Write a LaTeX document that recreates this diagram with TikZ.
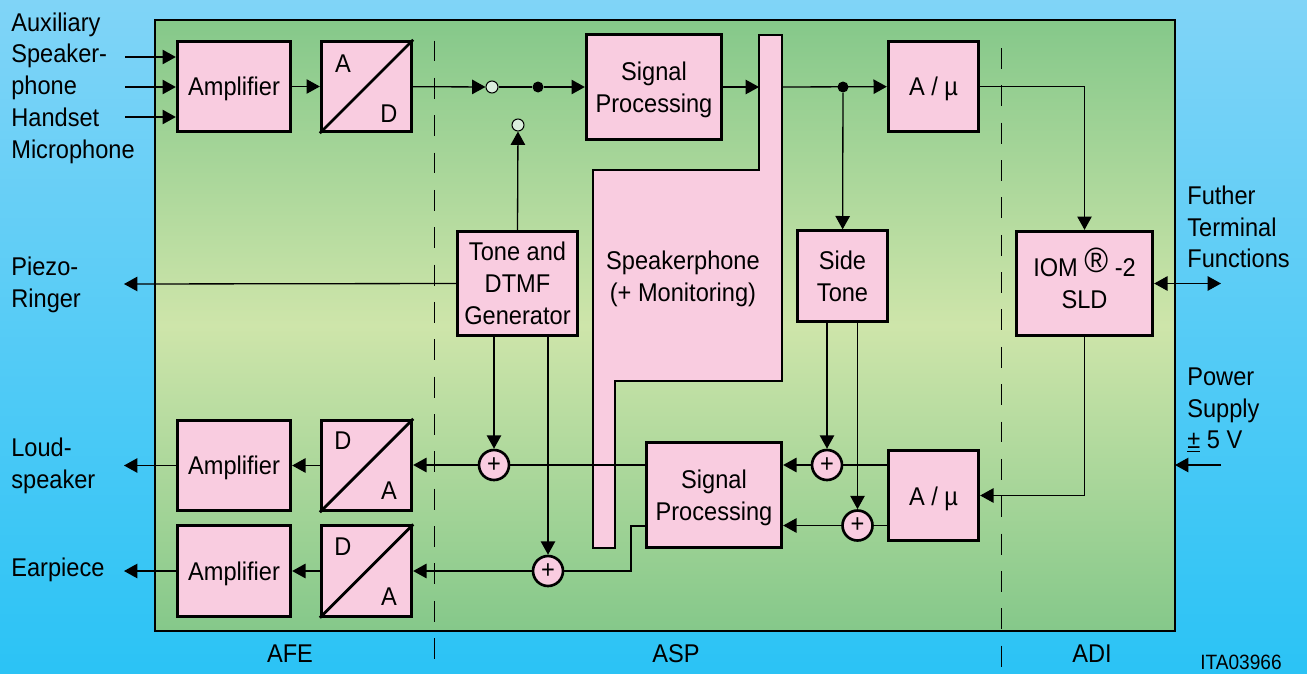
\documentclass[tikz,border=0pt]{standalone}
\usepackage{fontspec}
\setmainfont[FakeStretch=0.92]{Liberation Sans}
\usetikzlibrary{arrows.meta}
\definecolor{skytop}{RGB}{128,212,247}
\definecolor{skylow}{RGB}{43,195,245}
\definecolor{leafrim}{RGB}{133,200,138}
\definecolor{leafmid}{RGB}{206,229,170}
\definecolor{blockpink}{RGB}{249,204,224}
\tikzset{
  wire/.style={line width=0.75pt, black},
  flow/.style={wire, -{Triangle[length=7.6pt, width=8.2pt]}},
  flowboth/.style={wire, {Triangle[length=7.6pt, width=8.2pt]}-{Triangle[length=7.6pt, width=8.2pt]}},
  heavy/.style={line width=1.6pt, black},
  divider/.style={line width=0.5pt, black, dash pattern=on 11.9pt off 9.36pt},
  blockbox/.style={draw=black, line width=1.6pt, fill=blockpink, inner sep=0pt, align=center},
  ampbox/.style={blockbox, minimum width=2.27cm, minimum height=1.81cm},
  convbox/.style={blockbox, minimum width=1.81cm, minimum height=1.81cm},
  sumnode/.style={circle, draw=black, line width=1.5pt, fill=blockpink, inner sep=0pt, minimum size=0.6cm},
  openpin/.style={circle, draw=black, line width=0.6pt, fill=white!70!leafrim, inner sep=0pt, minimum size=0.24cm},
  dotpin/.style={circle, fill=black, inner sep=0pt, minimum size=0.22cm},
  outerlabel/.style={anchor=west, align=left, inner sep=0pt},
  letter/.style={inner sep=0pt},
  dropby/.style={execute at begin node={\rule{0pt}{\dimexpr10.7pt+#1\relax}}}
}
\begin{document}
\begin{tikzpicture}[x=0.02cm, y=-0.02cm, font=\fontsize{14.6}{18.1}\selectfont]
  \useasboundingbox (0,0) rectangle (1307,673);
  \shade[top color=skytop, bottom color=skylow] (0,0) rectangle (1307,673);
  \shade[top color=leafrim, bottom color=leafrim, middle color=leafmid] (155,20) rectangle (1175,631);
  \draw[heavy] (155,20) rectangle (1175,631);

  % section dividers
  \coordinate (afetop) at (434,40.5);
  \coordinate (afelow) at (434,661);
  \coordinate (aditop) at (1001,48);
  \coordinate (adilow) at (1001,668);
  \draw[divider] (afetop) -- (afelow);
  \draw[divider] (aditop) -- (adilow);

  % blocks
  \node[ampbox, dropby=2.6pt] (amptop) at (234,86.5) {Amplifier};
  \node[convbox] (adc) at (366.5,86.5) {};
  \node[blockbox, minimum width=2.71cm, minimum height=2.11cm] (sigtop) at (654,87) {};
  \node[letter, align=center] (sigtoptxt) at (654,89.5) {Signal\\Processing};
  \node[convbox, dropby=2.2pt] (mutop) at (933.5,86.5) {A / µ};
  \node[blockbox, minimum width=2.41cm, minimum height=2.09cm] (tone) at (517.5,283.5) {Tone and\\DTMF\\Generator};
  \node[convbox] (side) at (842.5,276) {Side\\Tone};
  \node[blockbox, minimum width=2.73cm, minimum height=2.09cm] (iom) at (1084.5,283.5) {IOM \smash{\raisebox{2pt}{\fontsize{20}{20}\selectfont ®}} -2\\SLD};
  \node[ampbox, dropby=2.6pt] (ampmid) at (234,465.5) {Amplifier};
  \node[convbox] (dacmid) at (366.5,465.5) {};
  \node[ampbox, dropby=2.6pt] (amplow) at (234,571) {Amplifier};
  \node[convbox] (daclow) at (366.5,571) {};
  \node[blockbox, minimum width=2.71cm, minimum height=2.11cm] (siglow) at (714,495) {};
  \node[letter, align=center] (siglowtxt) at (714,497.5) {Signal\\Processing};
  \node[convbox, dropby=3.6pt] (mulow) at (933.5,495.5) {A / µ};

  % speakerphone outline
  \draw[blockbox] (759,35) -- (782,35) -- (782,381) -- (615,381) -- (615,548) -- (593,548) -- (593,170) -- (759,170) -- cycle;
  \node[letter, align=center] (spkph) at (683,278.5) {Speakerphone\\(+ Monitoring)};
  \coordinate (spkin) at (759,87);
  \coordinate (spkout) at (782,87);

  % converter diagonals and letters
  \draw[heavy] (adc.south west) -- (adc.north east);
  \draw[heavy] (dacmid.south west) -- (dacmid.north east);
  \draw[heavy] (daclow.south west) -- (daclow.north east);
  \node[letter] (adca) at (343,64) {A};
  \node[letter] (adcd) at (389,114) {D};
  \node[letter] (dacmidd) at (343,441) {D};
  \node[letter] (dacmida) at (389,491) {A};
  \node[letter] (daclowd) at (343,547) {D};
  \node[letter] (daclowa) at (389,597) {A};

  % summing points and switch
  \node[sumnode] (sumtone) at (494,465) {+};
  \node[sumnode] (sumside) at (827,465) {+};
  \node[sumnode] (sumear) at (857.5,525.5) {+};
  \node[sumnode] (sumgen) at (548,571) {+};
  \node[openpin] (swin) at (492,87) {};
  \node[dotpin] (swout) at (538,87) {};
  \node[openpin] (swgen) at (518,125) {};
  \node[dotpin] (sidetap) at (843,87) {};

  % free ends
  \coordinate (inaux) at (125,57);
  \coordinate (inspk) at (125,87);
  \coordinate (inmic) at (125,117);
  \coordinate (outpiezo) at (124,284);
  \coordinate (outloud) at (124,465.5);
  \coordinate (outear) at (124,571);
  \coordinate (outfunc) at (1221,283.5);
  \coordinate (inpower) at (1221,465);
  \coordinate (edgepower) at (1175,465);
  \coordinate (sigbend) at (631,526);
  \coordinate (iomdrop) at (1084.5,495.5);

  % upper signal path
  \draw[flow] (inaux) -- (inaux -| amptop.west);
  \draw[flow] (inspk) -- (inspk -| amptop.west);
  \draw[flow] (inmic) -- (inmic -| amptop.west);
  \draw[flow] (amptop) -- (adc);
  \draw[flow] (adc) -- (swin);
  \draw[line width=1.5pt] (swin) -- (swout);
  \draw[flow] (swout) -- (sigtop);
  \draw[flow] (sigtop.east |- spkin) -- (spkin);
  \draw[flow] (spkout) -- (mutop);
  \draw[flow] (sidetap) -- (side);
  \draw[flow] (mutop.east) -| (iom.north);
  \draw[flowboth] (iom.east) -- (outfunc);
  \draw[flow] (tone.north) -- (swgen);
  \draw[flow] (tone.west) -- (outpiezo);

  % lower signal path
  \draw[flow] (sumtone |- tone.south) -- (sumtone);
  \draw[flow] (sumgen |- tone.south) -- (sumgen);
  \draw[flow] (sumside |- side.south) -- (sumside);
  \draw[flow] (sumear |- side.south) -- (sumear);
  \draw[wire] (iom.south) -- (iomdrop);
  \draw[flow] (iomdrop) -- (mulow.east);
  \draw[heavy] (sumside.east) -- (sumside.east -| mulow.west);
  \draw[wire] (sumear.east) -- (sumear.east -| mulow.west);
  \draw[flow] (sumside.west) -- (sumside.west -| siglow.east);
  \draw[flow] (sumear.west) -- (sumear.west -| siglow.east);
  \draw[wire] (siglow.west |- sumtone) -- (sumtone.east);
  \draw[flow] (sumtone.west) -- (sumtone.west -| dacmid.east);
  \draw[wire] (sumgen.east) -| (sigbend) -- (sigbend -| siglow.west);
  \draw[flow] (sumgen.west) -- (sumgen.west -| daclow.east);
  \draw[flow] (dacmid) -- (ampmid);
  \draw[flow] (daclow) -- (amplow);
  \draw[flow] (ampmid) -- (outloud);
  \draw[flow] (amplow) -- (outear);
  \draw[flow] (inpower) -- (edgepower);

  % outer labels
  \node[outerlabel] (lblmic) at (11,88) {Auxiliary\\Speaker-\\phone\\Handset\\Microphone};
  \node[outerlabel] (lblpiezo) at (11,284.5) {Piezo-\\Ringer};
  \node[outerlabel] (lblloud) at (11,466) {Loud-\\speaker};
  \node[outerlabel] (lblear) at (11,570) {Earpiece};
  \node[outerlabel] (lblfunc) at (1187,227) {Futher\\Terminal\\Functions};
  \node[outerlabel] (lblpower) at (1187,410) {Power\\Supply\\\underline{±} 5 V};
  \node[letter] (lblafe) at (290,654) {AFE};
  \node[letter] (lblasp) at (676,654) {ASP};
  \node[letter] (lbladi) at (1092,654) {ADI};
  \node[letter, font=\fontsize{11.8}{13}\selectfont] (lblref) at (1241,662) {ITA03966};
\end{tikzpicture}
\end{document}
